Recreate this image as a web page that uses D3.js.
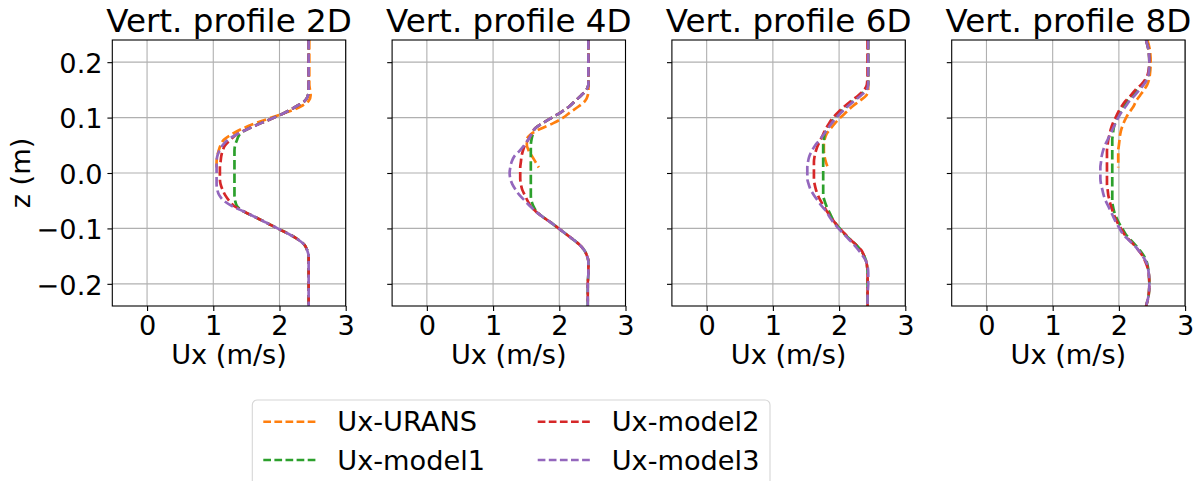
<!DOCTYPE html>
<html>
<head>
<meta charset="utf-8">
<script src="https://cdn.jsdelivr.net/npm/d3@7"></script>
<style>
  body { margin: 0; background: #fff; }
  svg { display: block; }
</style>
</head>
<body>
<svg id="chart" width="1199" height="481" font-family="DejaVu Sans"></svg>
<script>
// Vertical sampling levels z (m), top to bottom
const zLevels = [0.24, 0.22, 0.20, 0.18, 0.16,
  0.15, 0.14, 0.13, 0.12, 0.11, 0.10, 0.09, 0.08, 0.07, 0.06, 0.05, 0.04, 0.03, 0.02, 0.01,
  0.00, -0.01, -0.02, -0.03, -0.04, -0.05, -0.06, -0.07, -0.08, -0.09, -0.10,
  -0.11, -0.12, -0.13, -0.14, -0.15,
  -0.16, -0.18, -0.20, -0.22, -0.24];

const stations = ["2D", "4D", "6D", "8D"];
const seriesNames = ["Ux-URANS", "Ux-model1", "Ux-model2", "Ux-model3"];
const seriesColors = ["#ff7f0e", "#2ca02c", "#d62728", "#9467bd"];
const xTicks = [0, 1, 2, 3];
const zTicks = [-0.2, -0.1, 0.0, 0.1, 0.2];

// URANS profiles are available on the upper half only (first entries of zLevels)
const urans2D = [2.45, 2.45, 2.45, 2.45, 2.45, 2.46, 2.47, 2.44, 2.32, 2.12, 1.88, 1.64, 1.44, 1.28, 1.16, 1.11, 1.08, 1.06, 1.05, 1.05];
const model1_2D = [2.44, 2.44, 2.44, 2.44, 2.44,
  2.44, 2.43, 2.38, 2.25, 2.10, 1.92, 1.72, 1.53, 1.40, 1.36, 1.33, 1.32, 1.32, 1.32, 1.32,
  1.32, 1.32, 1.32, 1.32, 1.32, 1.33, 1.36, 1.47, 1.64, 1.81, 1.97, 2.14, 2.28, 2.38, 2.42, 2.44,
  2.44, 2.44, 2.44, 2.44, 2.44];
const model2_2D = [2.44, 2.44, 2.44, 2.44, 2.44,
  2.44, 2.43, 2.38, 2.25, 2.10, 1.92, 1.72, 1.53, 1.36, 1.26, 1.18, 1.14, 1.12, 1.11, 1.10,
  1.10, 1.10, 1.11, 1.14, 1.18, 1.24, 1.32, 1.47, 1.64, 1.81, 1.97, 2.14, 2.28, 2.38, 2.42, 2.44,
  2.44, 2.44, 2.44, 2.44, 2.44];
const model3_2D = [2.44, 2.44, 2.44, 2.44, 2.44,
  2.44, 2.43, 2.38, 2.25, 2.10, 1.92, 1.72, 1.53, 1.36, 1.22, 1.14, 1.09, 1.06, 1.05, 1.05,
  1.05, 1.05, 1.05, 1.06, 1.09, 1.16, 1.29, 1.47, 1.64, 1.81, 1.97, 2.14, 2.28, 2.38, 2.42, 2.44,
  2.44, 2.44, 2.44, 2.44, 2.44];

const urans4D = [2.44, 2.44, 2.44, 2.44, 2.44, 2.44, 2.43, 2.39, 2.29, 2.17, 2.06, 1.91, 1.72, 1.57, 1.51, 1.51, 1.54, 1.59, 1.64, 1.69];
const model1_4D = [2.44, 2.44, 2.44, 2.44, 2.44,
  2.41, 2.33, 2.24, 2.15, 2.03, 1.89, 1.75, 1.63, 1.60, 1.58, 1.57, 1.57, 1.57, 1.57, 1.57,
  1.57, 1.57, 1.57, 1.57, 1.57, 1.58, 1.61, 1.66, 1.76, 1.88, 1.99, 2.10, 2.21, 2.31, 2.38, 2.42,
  2.44, 2.44, 2.43, 2.43, 2.43];
const model2_4D = [2.44, 2.44, 2.44, 2.44, 2.44,
  2.41, 2.33, 2.24, 2.15, 2.03, 1.89, 1.75, 1.63, 1.58, 1.53, 1.48, 1.45, 1.43, 1.42, 1.41,
  1.41, 1.41, 1.42, 1.44, 1.48, 1.52, 1.57, 1.65, 1.76, 1.88, 1.99, 2.10, 2.21, 2.31, 2.38, 2.42,
  2.44, 2.44, 2.43, 2.43, 2.43];
const model3_4D = [2.44, 2.44, 2.44, 2.44, 2.44,
  2.41, 2.33, 2.24, 2.15, 2.03, 1.89, 1.75, 1.63, 1.58, 1.53, 1.47, 1.40, 1.32, 1.28, 1.26,
  1.25, 1.26, 1.29, 1.34, 1.40, 1.48, 1.56, 1.65, 1.76, 1.88, 1.99, 2.10, 2.21, 2.31, 2.38, 2.42,
  2.44, 2.44, 2.43, 2.43, 2.43];

const urans6D = [2.44, 2.44, 2.44, 2.44, 2.44, 2.44, 2.41, 2.31, 2.20, 2.11, 2.02, 1.94, 1.87, 1.81, 1.78, 1.77, 1.77, 1.78, 1.80, 1.83];
const model1_6D = [2.44, 2.44, 2.44, 2.44, 2.44,
  2.40, 2.31, 2.21, 2.11, 2.02, 1.94, 1.87, 1.82, 1.78, 1.77, 1.76, 1.76, 1.76, 1.76, 1.76,
  1.76, 1.76, 1.76, 1.76, 1.76, 1.78, 1.81, 1.85, 1.89, 1.94, 2.01, 2.08, 2.17, 2.26, 2.33, 2.38,
  2.41, 2.43, 2.43, 2.43, 2.43];
const model2_6D = [2.43, 2.43, 2.43, 2.43, 2.42,
  2.38, 2.29, 2.18, 2.08, 1.99, 1.91, 1.85, 1.80, 1.76, 1.72, 1.68, 1.65, 1.63, 1.62, 1.62,
  1.62, 1.62, 1.63, 1.65, 1.68, 1.72, 1.77, 1.82, 1.88, 1.94, 2.01, 2.09, 2.17, 2.26, 2.34, 2.38,
  2.41, 2.43, 2.43, 2.43, 2.43];
const model3_6D = [2.44, 2.44, 2.44, 2.44, 2.44,
  2.42, 2.33, 2.23, 2.13, 2.04, 1.96, 1.89, 1.83, 1.77, 1.71, 1.64, 1.59, 1.55, 1.53, 1.52,
  1.52, 1.52, 1.54, 1.57, 1.62, 1.68, 1.74, 1.81, 1.86, 1.92, 1.99, 2.07, 2.15, 2.23, 2.30, 2.36,
  2.41, 2.44, 2.44, 2.43, 2.43];

const urans8D = [2.43, 2.47, 2.48, 2.47, 2.43, 2.38, 2.32, 2.26, 2.22, 2.16, 2.11, 2.07, 2.04, 2.02, 2.01, 2.00, 1.99, 1.99, 1.99, 1.99];
const model1_8D = [2.41, 2.45, 2.46, 2.45, 2.36,
  2.28, 2.21, 2.13, 2.07, 2.02, 1.97, 1.94, 1.92, 1.91, 1.90, 1.90, 1.90, 1.90, 1.90, 1.90,
  1.90, 1.90, 1.90, 1.90, 1.90, 1.90, 1.91, 1.93, 1.96, 2.00, 2.05, 2.10, 2.17, 2.25, 2.32, 2.38,
  2.42, 2.45, 2.46, 2.45, 2.41];
const model2_8D = [2.41, 2.45, 2.46, 2.44, 2.34,
  2.25, 2.18, 2.10, 2.04, 1.99, 1.95, 1.91, 1.88, 1.86, 1.84, 1.83, 1.82, 1.82, 1.82, 1.82,
  1.82, 1.82, 1.82, 1.83, 1.84, 1.86, 1.88, 1.91, 1.94, 1.98, 2.03, 2.08, 2.15, 2.23, 2.30, 2.36,
  2.40, 2.45, 2.46, 2.45, 2.41];
const model3_8D = [2.41, 2.45, 2.46, 2.45, 2.38,
  2.31, 2.24, 2.16, 2.10, 2.04, 1.99, 1.95, 1.91, 1.87, 1.83, 1.79, 1.76, 1.74, 1.73, 1.72,
  1.72, 1.72, 1.73, 1.75, 1.77, 1.80, 1.84, 1.88, 1.92, 1.96, 2.01, 2.06, 2.14, 2.23, 2.30, 2.36,
  2.41, 2.45, 2.46, 2.45, 2.41];

// Table: one row per station, series in legend order
const profiles = [
  [urans2D, model1_2D, model2_2D, model3_2D],
  [urans4D, model1_4D, model2_4D, model3_4D],
  [urans6D, model1_6D, model2_6D, model3_6D],
  [urans8D, model1_8D, model2_8D, model3_8D]
];

// ---- layout ----
const FONT = "DejaVu Sans";
const svg = d3.select("#chart");
const panelW = 233.4, panelH = 266, panelTop = 40;
const panelLeft0 = 112.3, panelStep = 279.8;
const fontBase = 27.2, fontTitle = 32.6;
const lineW = 2.7, dash = "9.5,4";
const legendLineW = 2.4, legendDash = "7.7,3.4";

const x = d3.scaleLinear().domain([-0.525, 3]).range([0, panelW]);
const y = d3.scaleLinear().domain([-0.24, 0.24]).range([panelH, 0]);

const line = d3.line()
  .x(d => x(d.u))
  .y(d => y(d.z))
  .curve(d3.curveMonotoneY);

svg.append("defs").append("clipPath").attr("id", "plotClip")
  .append("rect").attr("width", panelW).attr("height", panelH);

function styleText(sel, size) {
  sel.attr("font-family", FONT).attr("font-size", size).attr("fill", "#000");
}

stations.forEach((st, i) => {
  const g = svg.append("g")
    .attr("transform", `translate(${panelLeft0 + i * panelStep},${panelTop})`);

  // grid
  g.append("g").selectAll("line").data(xTicks).join("line")
    .attr("x1", d => x(d)).attr("x2", d => x(d))
    .attr("y1", 0).attr("y2", panelH)
    .attr("stroke", "#b0b0b0").attr("stroke-width", 1.1);
  g.append("g").selectAll("line").data(zTicks).join("line")
    .attr("y1", d => y(d)).attr("y2", d => y(d))
    .attr("x1", 0).attr("x2", panelW)
    .attr("stroke", "#b0b0b0").attr("stroke-width", 1.1);

  // profiles
  const lines = g.append("g").attr("clip-path", "url(#plotClip)");
  profiles[i].forEach((vals, s) => {
    const pts = vals.map((u, k) => ({ u: u, z: zLevels[k] }));
    lines.append("path")
      .attr("d", line(pts))
      .attr("fill", "none")
      .attr("stroke", seriesColors[s])
      .attr("stroke-width", lineW)
      .attr("stroke-dasharray", dash);
  });

  // x axis
  const xa = g.append("g").attr("transform", `translate(0,${panelH})`)
    .call(d3.axisBottom(x).tickValues(xTicks).tickSize(4.9).tickSizeOuter(0).tickFormat(d3.format("d")));
  xa.attr("font-family", FONT);
  xa.select(".domain").remove();
  xa.selectAll(".tick line").attr("stroke", "#000").attr("stroke-width", 1.1);
  xa.selectAll(".tick text").attr("y", 28.5).attr("dy", null).call(styleText, fontBase);

  // y axis (labels on first panel only)
  const ya = g.append("g")
    .call(d3.axisLeft(y).tickValues(zTicks).tickSize(4.9).tickSizeOuter(0)
      .tickFormat(i === 0 ? d3.format(".1f") : () => ""));
  ya.attr("font-family", FONT);
  ya.select(".domain").remove();
  ya.selectAll(".tick line").attr("stroke", "#000").attr("stroke-width", 1.1);
  ya.selectAll(".tick text").attr("x", -9.7).attr("dy", "0.38em").call(styleText, fontBase);

  // frame
  g.append("rect").attr("width", panelW).attr("height", panelH)
    .attr("fill", "none").attr("stroke", "#000").attr("stroke-width", 1.1);

  // title and x label
  g.append("text").attr("x", panelW / 2).attr("y", -8.3)
    .attr("text-anchor", "middle").call(styleText, fontTitle)
    .text("Vert. profile " + st);
  g.append("text").attr("x", panelW / 2).attr("y", panelH + 57.5)
    .attr("text-anchor", "middle").call(styleText, fontBase)
    .text("Ux (m/s)");
});

// y label
svg.append("text")
  .attr("transform", `translate(30,${panelTop + panelH / 2}) rotate(-90)`)
  .attr("text-anchor", "middle").call(styleText, fontBase)
  .text("z (m)");

// legend (two columns)
const legend = svg.append("g").attr("transform", "translate(252.3,400)");
legend.append("rect")
  .attr("width", 517.7).attr("height", 100).attr("rx", 5).attr("ry", 5)
  .attr("fill", "#fff").attr("stroke", "#d6d6d6").attr("stroke-width", 1.1);
const legendCols = [11, 285.4];
const legendRows = [21.7, 60];
seriesNames.forEach((name, s) => {
  const cx = legendCols[Math.floor(s / 2)], cy = legendRows[s % 2];
  legend.append("line")
    .attr("x1", cx).attr("x2", cx + 53.5).attr("y1", cy).attr("y2", cy)
    .attr("stroke", seriesColors[s]).attr("stroke-width", legendLineW)
    .attr("stroke-dasharray", legendDash);
  legend.append("text")
    .attr("x", cx + 74).attr("y", cy).attr("dy", "0.36em")
    .call(styleText, fontBase)
    .text(name);
});
</script>
</body>
</html>
